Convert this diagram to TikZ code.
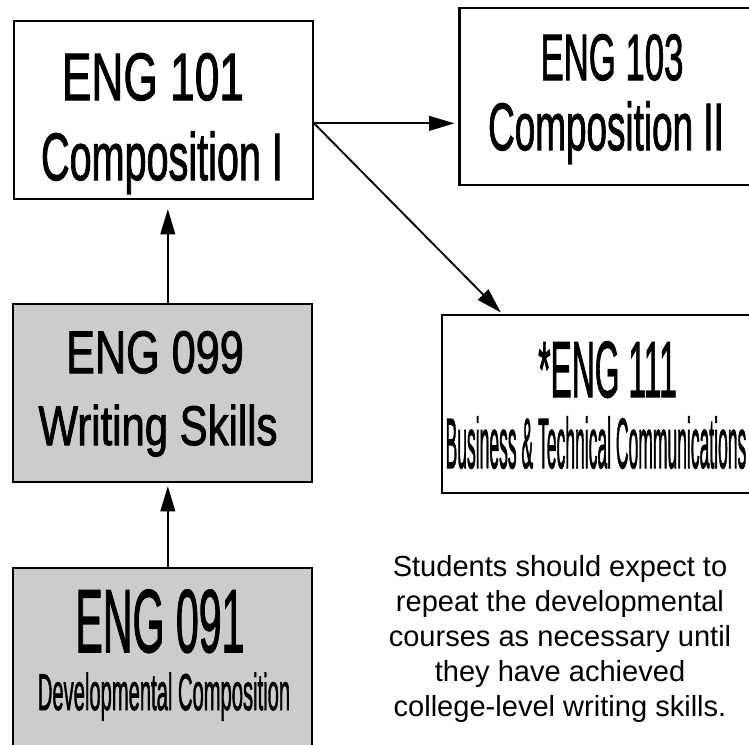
\documentclass[tikz,border=0pt]{standalone}
\usepackage{fontspec}
\setmainfont{Liberation Sans}
\newfontfamily\crsfont{Liberation Sans}[FakeBold=1.8]
\usepackage{graphicx}
\usepackage{xcolor}
\usepackage{tikz}
\usetikzlibrary{positioning, arrows.meta, calc}

\definecolor{devgray}{HTML}{CCCCCC}
\newcommand{\sqz}[3]{{\fontsize{#1}{#1}\crsfont\scalebox{#2}[1]{#3}}}

\tikzset{
    course/.style={draw, line width=1.6pt, minimum width=224.25pt, minimum height=133.5pt, inner sep=0pt},
    devcourse/.style={course, fill=devgray},
    crs/.style={anchor=base, inner sep=0pt},
    flow/.style={-{Triangle[length=19pt,width=11pt]}, line width=1.4pt},
    note/.style={align=center, inner sep=0pt, font=\fontsize{21.8}{26.25}\selectfont}
}

\begin{document}
\begin{tikzpicture}[x=0.75pt, y=-0.75pt]
    \useasboundingbox (0,0) rectangle (749,744);

    % ENG 101
    \node[course] (eng101) at (163.5,110) {};
    \node[crs] (eng101a) at (153,100) {\sqz{50.3}{0.66}{ENG 101}};
    \node[crs] (eng101b) at (162,180) {\sqz{50.3}{0.59}{Composition I}};

    % ENG 103
    \node[course, minimum height=132.75pt] (eng103) at (609,96.5) {};
    \node[crs] (eng103a) at (612,80) {\sqz{49.2}{0.53}{ENG 103}};
    \node[crs] (eng103b) at (606,150) {\sqz{50.3}{0.55}{Composition II}};

    % ENG 111
    \node[course, minimum width=240pt] (eng111) at (602,404) {};
    \node[crs] (eng111a) at (607.5,397) {\sqz{59.7}{0.40}{*ENG 111}};
    \node[crs] (eng111b) at (596,468) {\sqz{53.4}{0.246}{Business \& Technical Communications}};

    % ENG 099
    \node[devcourse] (eng099) at (162.5,393) {};
    \node[crs] (eng099a) at (155,373) {\sqz{45}{0.72}{ENG 099}};
    \node[crs] (eng099b) at (158,445) {\sqz{41.9}{0.75}{Writing Skills}};

    % ENG 091
    \node[devcourse] (eng091) at (162.5,657) {};
    \node[crs] (eng091a) at (160,652) {\sqz{67}{0.46}{ENG 091}};
    \node[crs] (eng091b) at (164,710) {\sqz{38.8}{0.39}{Developmental Composition}};

    % Arrows
    \coordinate (fork) at ([yshift=-10pt]eng101.east);
    \draw[flow, shorten >=2.25pt] ([xshift=4pt]eng091.north) -- ([xshift=4pt]eng091.north |- eng099.south);
    \draw[flow, shorten >=6.75pt] ([xshift=4pt]eng099.north) -- ([xshift=4pt]eng099.north |- eng101.south);
    \draw[flow, shorten >=3pt] (fork) -- (fork -| eng103.west);
    \draw[flow, shorten >=1.5pt] (fork) -- ([xshift=46pt]eng111.north west);

    % Note
    \node[note] (note) at (560,638.5) {Students should expect to\\repeat the developmental\\courses as necessary until\\they have achieved\\college-level writing skills.};
\end{tikzpicture}
\end{document}
